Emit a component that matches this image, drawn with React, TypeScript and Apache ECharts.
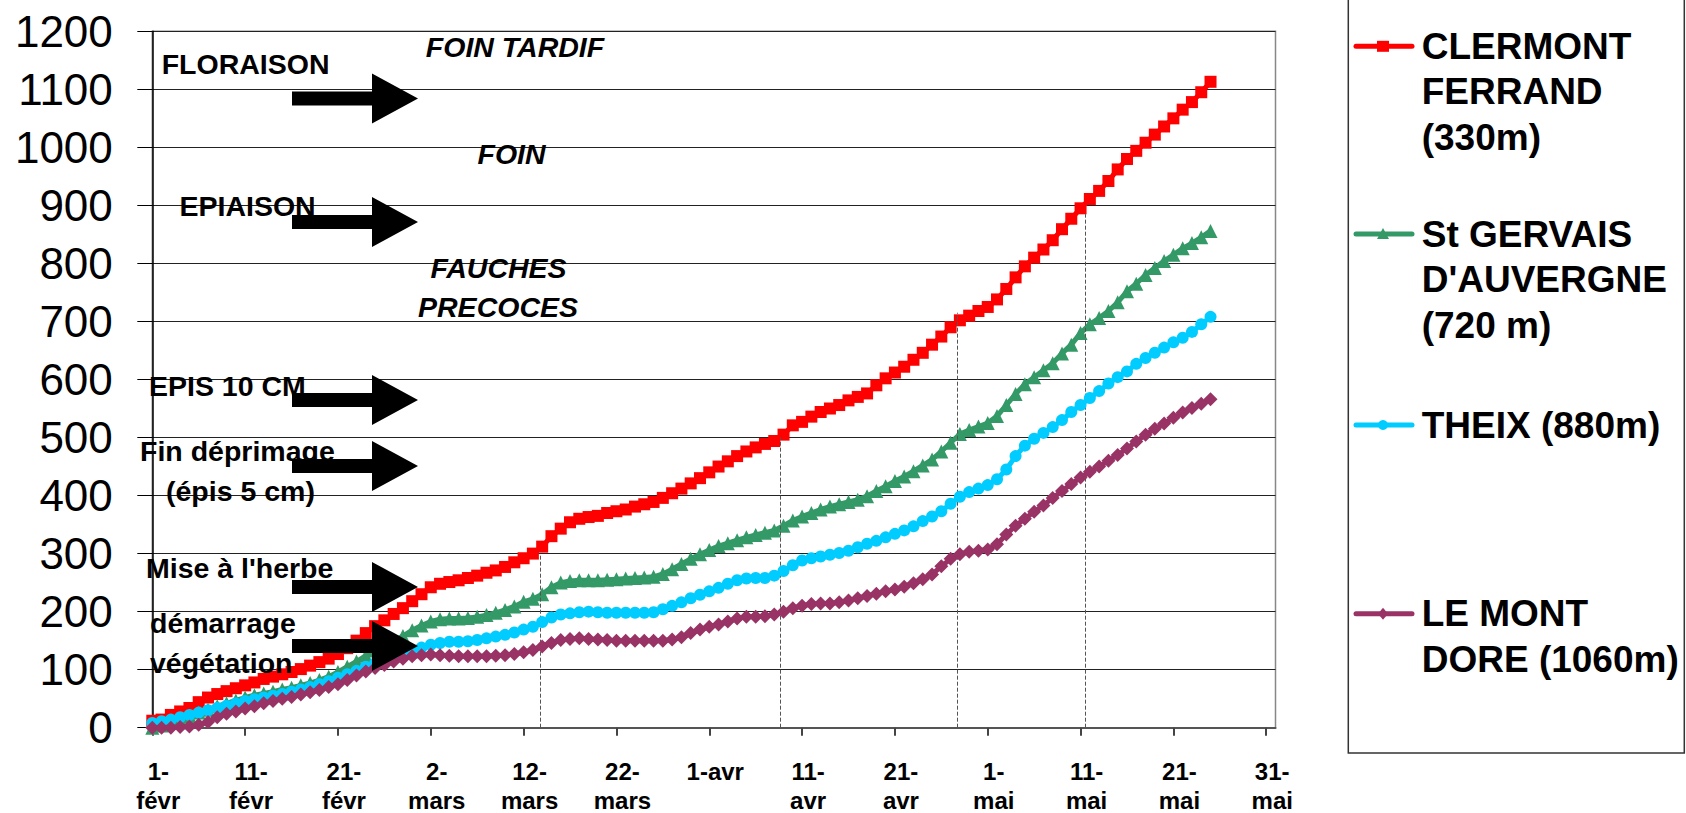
import React, { useEffect, useRef } from "react";
import * as echarts from "echarts";

// Days counted from 1-févr (leap year: 2-mars = day 30)
const tickDays = [0, 10, 20, 30, 40, 50, 60, 70, 80, 90, 100, 110, 120];
const tickLabels = [
  "1-\nfévr", "11-\nfévr", "21-\nfévr", "2-\nmars", "12-\nmars", "22-\nmars",
  "1-avr", "11-\navr", "21-\navr", "1-\nmai", "11-\nmai", "21-\nmai", "31-\nmai",
];

const clermont = [
  12, 14, 22, 28, 34, 44, 52, 58, 63, 68,
  73, 78, 84, 88, 92, 96, 101, 107, 113, 119,
  127, 137, 150, 163, 175, 185, 196, 206, 218, 230,
  242, 248, 251, 254, 258, 262, 267, 271, 277, 285,
  292, 300, 312, 330, 343, 354, 360, 363, 365, 370,
  373, 376, 381, 385, 389, 396, 404, 412, 421, 430,
  440, 450, 459, 468, 476, 483, 489, 494, 505, 521,
  527, 536, 544, 550, 556, 564, 570, 576, 590, 602,
  612, 622, 634, 646, 660, 674, 690, 702, 710, 718,
  725, 738, 756, 776, 795, 810, 824, 840, 859, 877,
  895, 911, 925, 942, 962, 980, 994, 1008, 1022, 1036,
  1050, 1065, 1078, 1095, 1113,
];
const stGervais = [
  0, 4, 8, 14, 20, 26, 31, 37, 42, 47,
  52, 56, 59, 62, 66, 69, 73, 77, 82, 88,
  96, 105, 114, 124, 133, 141, 149, 158, 168, 176,
  183, 187, 188, 188, 189, 191, 194, 198, 203, 209,
  217, 222, 230, 242, 250, 253, 254, 254, 254, 255,
  256, 257, 258, 259, 260, 265, 273, 282, 291, 299,
  306, 313, 318, 323, 328, 332, 336, 340, 348, 357,
  364, 370, 376, 381, 385, 389, 393, 399, 408, 416,
  425, 433, 442, 452, 462, 476, 491, 506, 513, 519,
  525, 537, 556, 575, 592, 604, 616, 628, 645, 660,
  680, 695, 706, 718, 733, 752, 765, 780, 792, 804,
  815, 826, 835, 845, 856,
];
const theix = [
  8, 11, 14, 18, 22, 26, 30, 34, 38, 42,
  46, 49, 52, 55, 58, 62, 66, 70, 75, 80,
  86, 92, 98, 105, 111, 116, 121, 127, 133, 138,
  143, 146, 148, 148, 149, 151, 154, 157, 160, 164,
  169, 174, 182, 190, 195, 197, 199, 200, 199, 198,
  198, 198, 198, 198, 199, 204, 210, 216, 223, 229,
  235, 241, 248, 254, 257, 258, 258, 262, 270, 280,
  288, 292, 295, 298, 301, 305, 311, 317, 322, 328,
  334, 340, 347, 356, 364, 373, 386, 398, 406, 412,
  418, 428, 445, 468, 486, 498, 508, 518, 530, 544,
  556, 568, 580, 593, 604, 614, 627, 637, 646, 655,
  664, 672, 682, 695, 708,
];
const leMontDore = [
  0, 0, 0, 1, 2, 5, 10, 18, 24, 28,
  33, 37, 42, 46, 50, 53, 57, 61, 65, 70,
  75, 82, 90, 97, 103, 108, 114, 119, 123, 125,
  126, 125, 124, 123, 123, 123, 123, 124, 125, 127,
  130, 134, 140, 146, 151, 153, 154, 153, 152, 151,
  150, 150, 150, 150, 150, 150, 152, 156, 163, 169,
  174, 178, 183, 188, 191, 191, 192, 195, 200, 206,
  210, 213, 214, 214, 216, 219, 223, 227, 231, 235,
  238, 243, 249, 256, 264, 278, 291, 299, 303, 305,
  307, 316, 333, 348, 360, 372, 383, 396, 408, 420,
  431, 441, 450, 460, 470, 481, 493, 505, 515, 524,
  534, 543, 551, 558, 566,
];

const seriesNames = [
  "CLERMONT FERRAND (330m)",
  "St GERVAIS D'AUVERGNE (720 m)",
  "THEIX (880m)",
  "LE MONT DORE (1060m)",
];
const legendLines = [
  ["CLERMONT", "FERRAND", "(330m)"],
  ["St GERVAIS", "D'AUVERGNE", "(720 m)"],
  ["THEIX (880m)"],
  ["LE MONT", "DORE (1060m)"],
];
const seriesColors = ["#FF0000", "#339966", "#00CCFF", "#993366"];
const seriesSymbols = ["rect", "triangle", "circle", "diamond"];

// Drop lines (Clermont reaching 300 / 500 / 700 / 900)
const dropLineDays = [41.8, 67.7, 86.7, 100.5];
const dropLineValues = [300, 500, 715, 885];

const stageLabels = [
  "FLORAISON", "EPIAISON", "EPIS 10 CM", "Fin déprimage", "(épis 5 cm)",
  "Mise à l'herbe", "démarrage", "végétation",
];
const usageLabels = ["FOIN TARDIF", "FOIN", "FAUCHES", "PRECOCES"];

const FONT = "'Liberation Sans', Arial, sans-serif";

export default function App() {
  const ref = useRef<HTMLDivElement>(null);

  useEffect(() => {
    if (!ref.current) return;
    const chart = echarts.init(ref.current, undefined, { renderer: "svg" });

    const allSeries = [clermont, stGervais, theix, leMontDore];
    const symbolSizes = [12, 14, 12, 14];

    const stagePos = [
      [161.7, 64], [179.5, 206], [149, 386], [140, 451], [166, 491],
      [146, 568], [150, 622.5], [150, 662.5],
    ];
    const usagePos = [[515, 46.5], [511.5, 154], [498.5, 268], [498, 307]];
    const arrowTips = [98.5, 222, 400, 466, 587, 646];

    const graphics: any[] = [];
    stageLabels.forEach((t, i) => {
      graphics.push({
        type: "text", z: 100, x: stagePos[i][0], y: stagePos[i][1],
        style: { text: t, font: `bold 28.5px ${FONT}`, fill: "#000", align: "left", verticalAlign: "middle" },
      });
    });
    usageLabels.forEach((t, i) => {
      graphics.push({
        type: "text", z: 100, x: usagePos[i][0], y: usagePos[i][1],
        style: { text: t, font: `italic bold 28.5px ${FONT}`, fill: "#000", align: "center", verticalAlign: "middle" },
      });
    });
    arrowTips.forEach((ty) => {
      graphics.push({
        type: "polygon", z: 100,
        shape: {
          points: [
            [292, ty - 7], [372, ty - 7], [372, ty - 25], [418, ty],
            [372, ty + 25], [372, ty + 7], [292, ty + 7],
          ],
        },
        style: { fill: "#000" },
      });
    });

    // Legend box
    graphics.push({
      type: "rect", z: 100,
      shape: { x: 1348.3, y: -5, width: 336, height: 758 },
      style: { fill: "none", stroke: "#333", lineWidth: 1.5 },
    });
    const legendY = [46.3, 234, 425, 613.8];
    const lh = 45.5;
    legendLines.forEach((lines, i) => {
      const y = legendY[i];
      const c = seriesColors[i];
      graphics.push({
        type: "line", z: 101,
        shape: { x1: 1356, y1: y, x2: 1412, y2: y },
        style: { stroke: c, lineWidth: 5, lineCap: "round" },
      });
      const mx = 1383;
      if (i === 0) {
        graphics.push({ type: "rect", z: 102, shape: { x: mx - 6, y: y - 5.5, width: 12, height: 11 }, style: { fill: c } });
      } else if (i === 1) {
        graphics.push({ type: "polygon", z: 102, shape: { points: [[mx, y - 6], [mx + 6, y + 5], [mx - 6, y + 5]] }, style: { fill: c } });
      } else if (i === 2) {
        graphics.push({ type: "circle", z: 102, shape: { cx: mx, cy: y, r: 5 }, style: { fill: c } });
      } else {
        graphics.push({ type: "polygon", z: 102, shape: { points: [[mx, y - 6], [mx + 5, y], [mx, y + 6], [mx - 5, y]] }, style: { fill: c } });
      }
      graphics.push({
        type: "text", z: 101, x: 1421.7, y: y - lh / 2,
        style: {
          text: lines.join("\n"), font: `bold 37px ${FONT}`, fill: "#000",
          lineHeight: lh, align: "left", verticalAlign: "top",
        },
      });
    });

    const option: any = {
      animation: false,
      backgroundColor: "#fff",
      grid: {
        left: 152.3, top: 31.3, right: 410.5, bottom: 85.3,
        show: true, borderColor: "#888", borderWidth: 1.5,
        containLabel: false, outerBoundsMode: "none",
      },
      xAxis: {
        type: "value", min: 0, max: 121, interval: 10,
        axisLine: { show: true, onZero: false, lineStyle: { color: "#555", width: 2 } },
        axisTick: { show: true, length: 8, customValues: tickDays, lineStyle: { color: "#444", width: 2 } },
        axisLabel: {
          customValues: tickDays,
          formatter: (v: number) => {
            const k = tickDays.indexOf(Math.round(v));
            return k >= 0 ? tickLabels[k] : "";
          },
          fontFamily: FONT, fontWeight: "bold", fontSize: 24, lineHeight: 29,
          color: "#000", margin: 29, padding: [0, 0, 0, 12],
        },
        splitLine: { show: false },
      },
      yAxis: {
        type: "value", min: 0, max: 1200, interval: 100,
        axisLine: { show: true, lineStyle: { color: "#000", width: 1.5 } },
        axisTick: { show: true, length: 15, lineStyle: { color: "#000", width: 1 } },
        axisLabel: {
          formatter: (v: number) => String(v),
          fontFamily: FONT, fontSize: 44, color: "#000", margin: 39.5, padding: [10, 0, 0, 0],
        },
        splitLine: { show: true, lineStyle: { color: "#222", width: 1 } },
      },
      series: allSeries.map((vals, i) => ({
        name: seriesNames[i],
        type: "line",
        data: vals.map((v, d) => [d, v]),
        symbol: seriesSymbols[i],
        symbolSize: symbolSizes[i],
        showSymbol: true,
        showAllSymbol: true,
        lineStyle: { color: seriesColors[i], width: 5 },
        itemStyle: { color: seriesColors[i] },
        emphasis: { disabled: true },
        z: 3 + i,
        markLine: i === 0 ? {
          silent: true,
          symbol: ["none", "none"],
          label: { show: false },
          lineStyle: { color: "#555", type: "dashed", width: 1 },
          emphasis: { disabled: true },
          data: dropLineDays.map((d, k) => [
            { coord: [d, 0] },
            { coord: [d, dropLineValues[k]] },
          ]),
        } : undefined,
      })),
      graphic: { elements: graphics },
    };

    chart.setOption(option);
    return () => chart.dispose();
  }, []);

  return (
    <div
      ref={ref}
      style={{ position: "fixed", left: 0, top: 0, width: 1686, height: 813, background: "#fff" }}
    />
  );
}
